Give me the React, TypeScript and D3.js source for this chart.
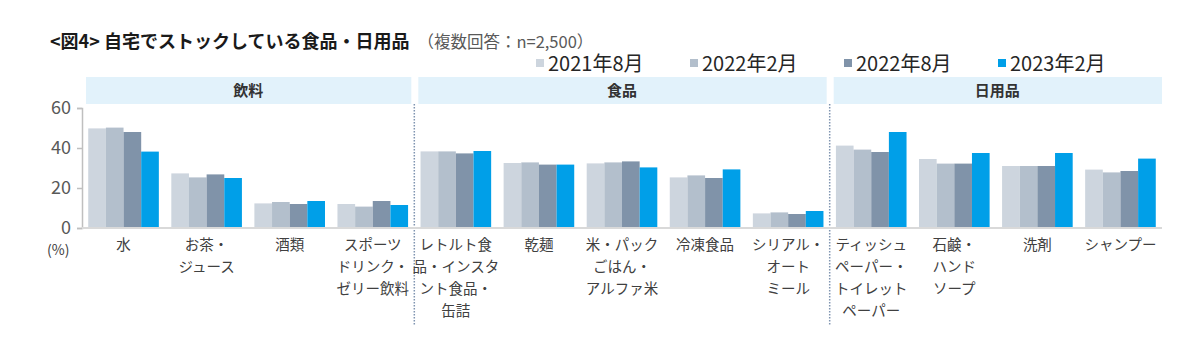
import React, { useEffect, useRef } from 'react';
import * as d3 from 'd3';

// Categories (label lines) and their panel groups
const categories = [
    ["水"],
    ["お茶・", "ジュース"],
    ["酒類"],
    ["スポーツ", "ドリンク・", "ゼリー飲料"],
    ["レトルト食", "品・インスタ", "ント食品・", "缶詰"],
    ["乾麺"],
    ["米・パック", "ごはん・", "アルファ米"],
    ["冷凍食品"],
    ["シリアル・", "オート", "ミール"],
    ["ティッシュ", "ペーパー・", "トイレット", "ペーパー"],
    ["石鹸・", "ハンド", "ソープ"],
    ["洗剤"],
    ["シャンプー"],
];
const groupNames = ["飲料", "食品", "日用品"];
const groupSizes = [4, 5, 4];

const seriesNames = ["2021年8月", "2022年2月", "2022年8月", "2023年2月"];
const seriesColors = ["#cdd5de", "#b3bfcc", "#8093a9", "#009fe8"];

const s2021Aug = [49.8, 27.3, 12.3, 12.0, 38.3, 32.5, 32.3, 25.3, 7.3, 41.2, 34.5, 31.0, 29.2];
const s2022Feb = [50.2, 25.3, 13.0, 10.7, 38.3, 32.8, 32.8, 26.3, 7.8, 39.2, 32.2, 31.0, 27.8];
const s2022Aug = [48.0, 26.8, 12.0, 13.5, 37.3, 31.7, 33.3, 25.0, 7.0, 38.0, 32.2, 31.0, 28.5];
const s2023Feb = [38.2, 25.0, 13.5, 11.5, 38.5, 31.7, 30.3, 29.3, 8.5, 48.0, 37.5, 37.5, 34.7];

const yTicks = [0, 20, 40, 60];

const FONT = "'Noto Sans CJK JP', 'Noto Sans', sans-serif";

export default function App() {
    const svgRef = useRef<SVGSVGElement>(null);

    useEffect(() => {
        const svg = d3.select(svgRef.current);
        svg.selectAll("*").remove();

        const series = [s2021Aug, s2022Feb, s2022Aug, s2023Feb];
        const left = 82, right = 1162, top = 108, bottom = 228;

        const x = d3.scaleBand<number>()
            .domain(d3.range(categories.length))
            .range([left, right])
            .paddingInner(0.15)
            .paddingOuter(0.075);
        const xs = d3.scaleBand<number>()
            .domain(d3.range(series.length))
            .range([0, x.bandwidth()]);
        const y = d3.scaleLinear().domain([0, 60]).range([bottom, top]);

        svg.append("rect").attr("width", 1200).attr("height", 350).attr("fill", "#fff");

        // Title
        const title = svg.append("text")
            .attr("x", 50).attr("y", 48)
            .attr("font-family", FONT);
        title.append("tspan")
            .attr("font-size", 18).attr("font-weight", "bold").attr("fill", "#1a1a1a")
            .text("<図4> 自宅でストックしている食品・日用品");
        title.append("tspan")
            .attr("dx", 8)
            .attr("font-size", 16.5).attr("fill", "#595959")
            .text("（複数回答：n=2,500）");

        // Legend
        const legend = svg.append("g").selectAll("g")
            .data(seriesNames)
            .enter().append("g")
            .attr("transform", (d, i) => `translate(${536 + i * 154},64)`);
        legend.append("rect")
            .attr("x", 0).attr("y", -5).attr("width", 8).attr("height", 8)
            .attr("fill", (d, i) => seriesColors[i]);
        legend.append("text")
            .attr("x", 12).attr("y", 7)
            .attr("font-family", FONT).attr("font-size", 20).attr("fill", "#262626")
            .text(d => d);

        // Panel headers and dividers
        let start = 0;
        groupNames.forEach((name, gi) => {
            const end = start + groupSizes[gi];
            const x0 = gi === 0 ? left : (x(start)! - x.step() * x.paddingInner() / 2);
            const x1 = gi === groupNames.length - 1 ? right + 3 : (x(end - 1)! + x.bandwidth() + x.step() * x.paddingInner() / 2);
            svg.append("rect")
                .attr("x", x0 + 4).attr("y", 77)
                .attr("width", x1 - x0 - 7).attr("height", 27)
                .attr("fill", "#e2f2fb");
            svg.append("text")
                .attr("x", (x0 + x1) / 2).attr("y", 96)
                .attr("text-anchor", "middle")
                .attr("font-family", FONT).attr("font-size", 15).attr("font-weight", "bold")
                .attr("fill", "#333")
                .text(name);
            if (gi > 0) {
                svg.append("line")
                    .attr("x1", x0).attr("x2", x0)
                    .attr("y1", 104).attr("y2", 325)
                    .attr("stroke", "#7f94b0").attr("stroke-width", 1.5)
                    .attr("stroke-dasharray", "1.5,1.5");
            }
            start = end;
        });

        // Y axis
        const yAxis = svg.append("g")
            .attr("transform", `translate(${left},0)`)
            .call(d3.axisLeft(y).tickValues(yTicks).tickSize(5).tickPadding(6));
        yAxis.select(".domain").attr("stroke", "#bfbfbf").attr("stroke-width", 1.5);
        yAxis.selectAll(".tick line").attr("stroke", "#bfbfbf").attr("stroke-width", 1.5);
        yAxis.selectAll(".tick text")
            .attr("font-family", FONT).attr("font-size", 18).attr("fill", "#595959");

        svg.append("text")
            .attr("x", 47).attr("y", 255)
            .attr("font-family", FONT).attr("font-size", 14).attr("fill", "#404040")
            .text("(%)");

        // Bars
        const groups = svg.append("g").selectAll("g")
            .data(categories.map((c, i) => i))
            .enter().append("g")
            .attr("transform", i => `translate(${x(i)},0)`);
        groups.selectAll("rect")
            .data(i => series.map((s, si) => ({ si, v: s[i] })))
            .enter().append("rect")
            .attr("x", d => xs(d.si)!)
            .attr("width", xs.bandwidth())
            .attr("y", d => y(d.v))
            .attr("height", d => y(0) - y(d.v))
            .attr("fill", d => seriesColors[d.si]);

        // Baseline
        svg.append("line")
            .attr("x1", left).attr("x2", right)
            .attr("y1", y(0)).attr("y2", y(0))
            .attr("stroke", "#d9d9d9").attr("stroke-width", 2);

        // X labels
        const labels = svg.append("g").selectAll("text")
            .data(categories)
            .enter().append("text")
            .attr("text-anchor", "middle")
            .attr("font-family", FONT).attr("font-size", 14.5).attr("fill", "#404040");
        labels.selectAll("tspan")
            .data((d, i) => d.map(line => ({ line, i })))
            .enter().append("tspan")
            .attr("x", d => x(d.i)! + x.bandwidth() / 2)
            .attr("y", (d, li) => 250 + li * 22)
            .text(d => d.line);
    }, []);

    return (
        <svg ref={svgRef} width={1200} height={350}
            style={{ position: "absolute", left: 0, top: 0, display: "block" }} />
    );
}
